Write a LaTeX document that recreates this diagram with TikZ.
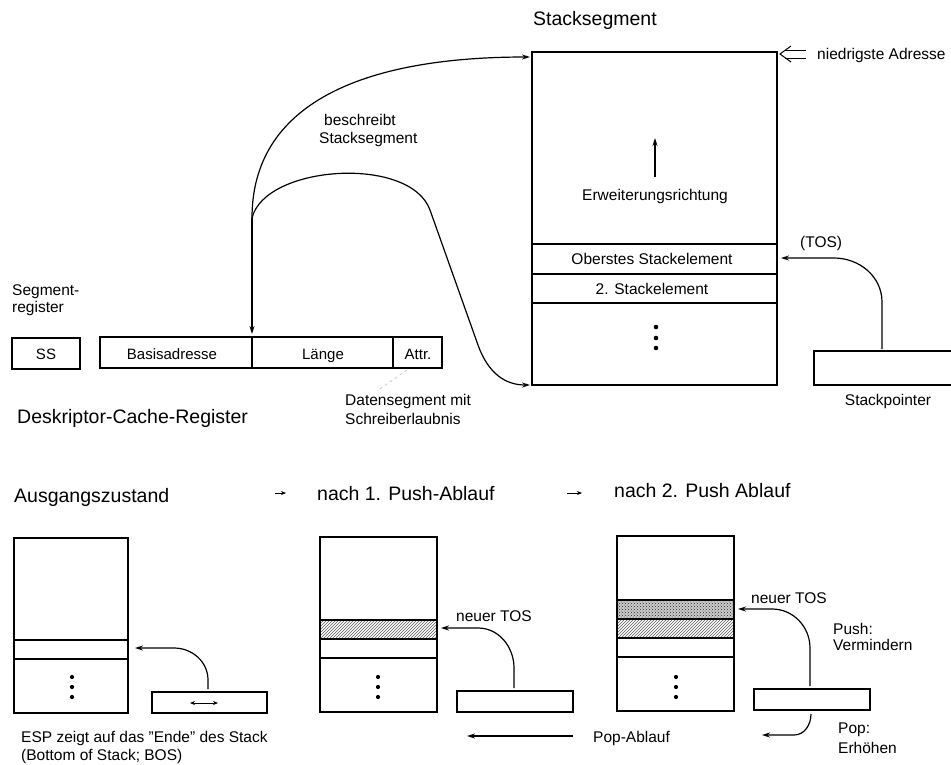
\documentclass[tikz,border=0pt]{standalone}
\usepackage{fontspec}
\setmainfont{Liberation Sans}
\usetikzlibrary{arrows.meta,patterns}

\begin{document}
\begin{tikzpicture}[x=1pt,y=-1pt,
  big/.style={font=\fontsize{19.5}{23}\selectfont, inner sep=0pt, anchor=base west},
  small/.style={font=\fontsize{15.5}{18}\selectfont, inner sep=0pt, anchor=base west},
  cell/.style={font=\fontsize{15}{17}\selectfont, inner sep=0pt, anchor=base},
  frame/.style={draw, line width=2.8pt},
  frametwo/.style={draw, line width=2.5pt},
  sep/.style={line width=1.1pt},
  conn/.style={line width=1.2pt, -{Stealth[length=8pt,width=5pt]}},
  smallarrow/.style={line width=0.9pt, -{Stealth[length=5pt,width=4pt]}},
  dot/.style={fill=black},
  hatch/.style={pattern=north east lines, pattern color=black!65},
]
\useasboundingbox (0,0) rectangle (951,764);
\clip (0,0) rectangle (951,764);

% ---------------- stack segment ----------------
\node[big] (title) at (533,25) {Stacksegment};
\draw[frame] (532,52) rectangle (777,385);
\coordinate (segtop) at (530,57);
\coordinate (segbot) at (530,385);
\draw[sep] (532,244) -- (777,244);
\draw[sep] (532,274) -- (777,274);
\draw[sep] (532,303) -- (777,303);
\node[small, anchor=base] (top) at (652,264) {Oberstes Stackelement};
\node[small, anchor=base] (second) at (652,294) {2. Stackelement};
\node[small, anchor=base] (dir) at (655,200) {Erweiterungsrichtung};
\coordinate (dirtip) at (655,138);
\draw[conn] ([yshift=12pt]dir.north) -- (dirtip);
\fill[dot] (656,327) circle (2.3pt);
\fill[dot] (656,338) circle (2.3pt);
\fill[dot] (656,348) circle (2.3pt);

% lowest address marker (double arrow)
\node[small] (lowaddr) at (817,59) {niedrigste Adresse};
\coordinate (lowtip) at (780,54);
\draw[line width=1pt] (785,50) -- (806,50);
\draw[line width=1pt] (785,58) -- (806,58);
\draw[line width=1pt, line join=miter] (791,46) -- (lowtip) -- (791,62);

% stack pointer
\draw[frame] (814,351) rectangle (965,385);
\node[small, anchor=base] (spl) at (888,405) {Stackpointer};
\node[small] (tos) at (800,247) {(TOS)};
\coordinate (spout) at (882,349);
\coordinate (sptip) at (781,258);
\draw[conn] (spout) -- (882,302) to[out=90,in=0] (834,258) -- (sptip);

% ---------------- registers ----------------
\node[small] (segreg1) at (12,295) {Segment-};
\node[small] (segreg2) at (12,312) {register};
\draw[frame] (12,338) rectangle (80,369);
\node[cell] (ss) at (46,359) {SS};

\draw[frame] (100,337) rectangle (442,368);
\draw[frame] (252,337) -- (252,368);
\draw[frame] (393,337) -- (393,368);
\node[cell] (base) at (172,359) {Basisadresse};
\node[cell] (len) at (323,359) {Länge};
\node[cell] (attr) at (418,359) {Attr.};
\node[big] (dcr) at (17,423) {Deskriptor-Cache-Register};
\node[small] (ds1) at (345,405) {Datensegment mit};
\node[small] (ds2) at (345,424) {Schreiberlaubnis};
\draw[gray!50, dashed, line width=0.6pt] (407,370) -- (377,391);

% descriptor connections
\node[small] (desc1) at (324,125) {beschreibt};
\node[small] (desc2) at (319,143) {Stacksegment};
\coordinate (fork) at (252,218);
\draw[conn] (fork) -- (252,334);
\draw[conn] (fork) .. controls (252,105) and (360,57) .. (segtop);
\draw[conn] (fork) .. controls (265,165) and (410,155) .. (430,210)
  -- (478,345) .. controls (488,373) and (505,385) .. (segbot);

% ---------------- push sequence ----------------
\node[big] (s0) at (14,502) {Ausgangszustand};
\draw[smallarrow] (275,493) -- (286,493);
\node[big] (s1) at (317,500) {nach 1. Push-Ablauf};
\draw[smallarrow] (567,493) -- (582,493);
\node[big] (s2) at (614,497) {nach 2. Push Ablauf};

% state 0
\draw[sep] (14,640) -- (128,640);
\draw[sep] (14,659) -- (128,659);
\draw[frametwo] (14,538) rectangle (128,713);
\fill[dot] (72,677) circle (2.1pt);
\fill[dot] (72,687) circle (2.1pt);
\fill[dot] (72,697) circle (2.1pt);
\draw[frametwo] (152,692) rectangle (267,713);
\draw[line width=1pt, {Stealth[length=5pt,width=4pt]}-{Stealth[length=5pt,width=4pt]}] (190,703) -- (218,703);
\coordinate (p0out) at (208,689);
\coordinate (p0tip) at (135,648);
\draw[conn] (p0out) -- (208,680) to[out=90,in=0] (174,648) -- (p0tip);
\node[small] (esp1) at (21,742) {ESP zeigt auf das {\char34}Ende{\char34} des Stack};
\node[small] (esp2) at (21,760) {(Bottom of Stack; BOS)};

% state 1
\fill[hatch] (320,620) rectangle (437,639);
\draw[sep] (320,620) -- (437,620);
\draw[sep] (320,639) -- (437,639);
\draw[sep] (320,658) -- (437,658);
\draw[frametwo] (320,537) rectangle (437,712);
\fill[dot] (378,677) circle (2.1pt);
\fill[dot] (378,687) circle (2.1pt);
\fill[dot] (378,697) circle (2.1pt);
\draw[frametwo] (457,691) rectangle (573,712);
\coordinate (p1out) at (514,688);
\coordinate (p1tip) at (441,628);
\draw[conn] (p1out) -- (514,668) to[out=90,in=0] (478,628) -- (p1tip);
\node[small] (new1) at (456,621) {neuer TOS};
\coordinate (popstart) at (573,736);
\coordinate (popend) at (467,736);
\draw[conn] (popstart) -- (popend);
\node[small] (popl) at (593,742) {Pop-Ablauf};

% state 2
\fill[gray!40] (617,600) rectangle (734,619);
\fill[pattern=crosshatch dots, pattern color=black!85] (617,600) rectangle (734,619);
\fill[hatch] (617,619) rectangle (734,638);
\draw[sep] (617,600) -- (734,600);
\draw[sep] (617,619) -- (734,619);
\draw[sep] (617,638) -- (734,638);
\draw[sep] (617,657) -- (734,657);
\draw[frametwo] (617,536) rectangle (734,711);
\fill[dot] (676,677) circle (2.1pt);
\fill[dot] (676,687) circle (2.1pt);
\fill[dot] (676,697) circle (2.1pt);
\draw[frametwo] (754,689) rectangle (870,710);
\coordinate (p2out) at (810,686);
\coordinate (p2tip) at (738,609);
\draw[conn] (p2out) -- (810,648) to[out=90,in=0] (772,609) -- (p2tip);
\node[small] (new2) at (751,603) {neuer TOS};
\node[small] (push1) at (833,634) {Push:};
\node[small] (push2) at (833,650) {Vermindern};
\coordinate (p2down) at (811,714);
\coordinate (p2poptip) at (762,735);
\draw[conn] (p2down) to[out=-90,in=0] (794,735) -- (p2poptip);
\node[small] (pop1) at (838,733) {Pop:};
\node[small] (pop2) at (838,753) {Erhöhen};
\end{tikzpicture}
\end{document}
